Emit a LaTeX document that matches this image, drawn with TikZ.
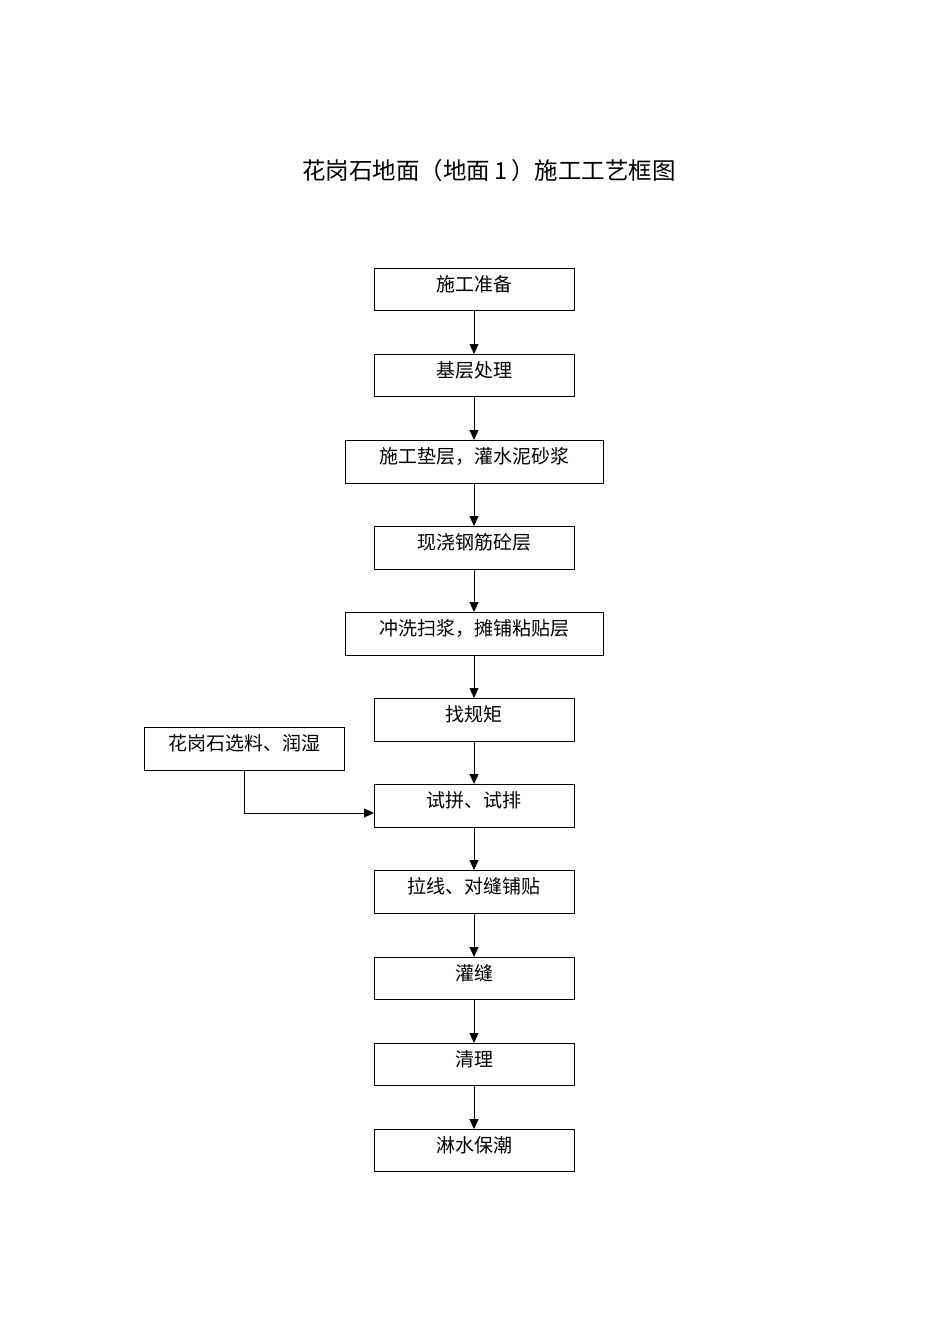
\documentclass[tikz,border=0pt]{standalone}
\usepackage{fontspec}
\newfontfamily\cjk{Noto Sans CJK SC}
\usetikzlibrary{arrows.meta}
\begin{document}
\begin{tikzpicture}[x=1pt,y=-1pt,
  stepbox/.style={draw,line width=1pt,inner sep=0pt},
  lbl/.style={font=\cjk\fontsize{19}{19}\selectfont,inner sep=0pt},
  arr/.style={line width=1pt,-{Triangle[length=10pt,width=9pt]}}]
\useasboundingbox (0,0) rectangle (950,1344);
\node[font=\cjk\fontsize{23.5}{23.5}\selectfont,inner sep=0pt] (title) at (489,171) {花岗石地面（地面\,1\,）施工工艺框图};
\foreach \n/\xa/\xb/\ya/\yb/\t in {
  b1/374/574/268/310/施工准备,
  b2/374/574/354/396/基层处理,
  b3/345/603/440/483/{施工垫层，灌水泥砂浆},
  b4/374/574/526/569/现浇钢筋砼层,
  b5/345/603/612/655/{冲洗扫浆，摊铺粘贴层},
  b6/374/574/698/741/找规矩,
  b7/374/574/784/827/{试拼、试排},
  b8/374/574/870/913/{拉线、对缝铺贴},
  b9/374/574/957/999/灌缝,
  b10/374/574/1043/1085/清理,
  b11/374/574/1129/1171/淋水保潮,
  s1/144/344/727/770/{花岗石选料、润湿}}{
  \draw[line width=1pt] (\xa,\ya) rectangle (\xb,\yb);
  \coordinate (\n-n) at ({(\xa+\xb)/2},\ya);
  \coordinate (\n-s) at ({(\xa+\xb)/2},\yb);
  \coordinate (\n-w) at (\xa,{\yb-14});
  \node[lbl] (\n-t) at ({(\xa+\xb)/2},{(\ya+\yb)/2-5}) {\t};
}
\foreach \a/\b in {b1/b2,b2/b3,b3/b4,b4/b5,b5/b6,b6/b7,b7/b8,b8/b9,b9/b10,b10/b11}{
  \draw[arr] (\a-s) -- (\b-n);
}
\draw[arr] (s1-s) |- (b7-w);
\end{tikzpicture}
\end{document}
